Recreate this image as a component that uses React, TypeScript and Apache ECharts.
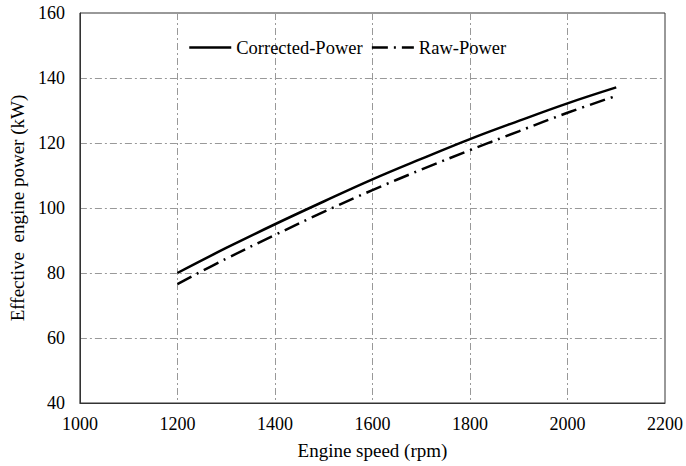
import React, { useEffect, useRef } from "react";
import * as echarts from "echarts";

const speeds = [1200, 1300, 1400, 1500, 1600, 1700, 1800, 1900, 2000, 2100];
const correctedPower = [80, 87.7, 95, 102, 108.8, 115.1, 121.2, 126.8, 132.2, 137.1];
const rawPower = [76.6, 84.4, 91.7, 98.8, 105.5, 111.8, 117.8, 123.6, 129.3, 134.5];
const xTicks = { min: 1000, max: 2200, interval: 200 };
const yTicks = { min: 40, max: 160, interval: 20 };

const FONT = "'Liberation Serif', 'Times New Roman', 'DejaVu Serif', serif";

export default function App() {
  const ref = useRef<HTMLDivElement>(null);
  useEffect(() => {
    if (!ref.current) return;
    const chart = echarts.init(ref.current, undefined, { renderer: "svg" });
    const gridLine = { show: true, lineStyle: { color: "#999", type: [7, 3, 2, 3], width: 1 } };
    chart.setOption({
      animation: false,
      backgroundColor: "#fff",
      textStyle: { fontFamily: FONT },
      grid: { left: 79, right: 15, top: 13, bottom: 63, show: true, borderColor: "#333", borderWidth: 1 },
      legend: {
        top: 33,
        left: 183,
        itemWidth: 42,
        itemHeight: 12,
        itemGap: 8,
        itemStyle: { opacity: 0 },
        lineStyle: { width: 2.5 },
        textStyle: { fontFamily: FONT, fontSize: 18.5, color: "#000" },
        data: ["Corrected-Power", "Raw-Power"],
      },
      xAxis: {
        type: "value",
        min: xTicks.min,
        max: xTicks.max,
        interval: xTicks.interval,
        name: "Engine speed (rpm)",
        nameLocation: "middle",
        nameGap: 38,
        nameTextStyle: { fontFamily: FONT, fontSize: 19, color: "#000" },
        axisLine: { show: true, lineStyle: { color: "#333" } },
        axisTick: { show: false },
        axisLabel: { fontFamily: FONT, fontSize: 18, color: "#000", margin: 12, formatter: (v: number) => String(v) },
        splitLine: gridLine,
      },
      yAxis: {
        type: "value",
        min: yTicks.min,
        max: yTicks.max,
        interval: yTicks.interval,
        name: "Effective  engine power (kW)",
        nameLocation: "middle",
        nameGap: 50,
        nameTextStyle: { fontFamily: FONT, fontSize: 19, color: "#000" },
        axisLine: { show: true, lineStyle: { color: "#333" } },
        axisTick: { show: false },
        axisLabel: { fontFamily: FONT, fontSize: 18, color: "#000", margin: 15, formatter: (v: number) => String(v) },
        splitLine: gridLine,
      },
      series: [
        {
          name: "Corrected-Power",
          type: "line",
          smooth: 0.4,
          symbol: "none",
          data: speeds.map((s, i) => [s, correctedPower[i]]),
          lineStyle: { color: "#000", width: 2.5 },
          itemStyle: { color: "#000" },
        },
        {
          name: "Raw-Power",
          type: "line",
          smooth: 0.4,
          symbol: "none",
          data: speeds.map((s, i) => [s, rawPower[i]]),
          lineStyle: { color: "#000", width: 2.5, type: [16, 6, 2, 6] },
          itemStyle: { color: "#000" },
        },
      ],
    });
    return () => chart.dispose();
  }, []);
  return <div ref={ref} style={{ width: 686, height: 466, position: "absolute", left: 0, top: 0 }} />;
}
